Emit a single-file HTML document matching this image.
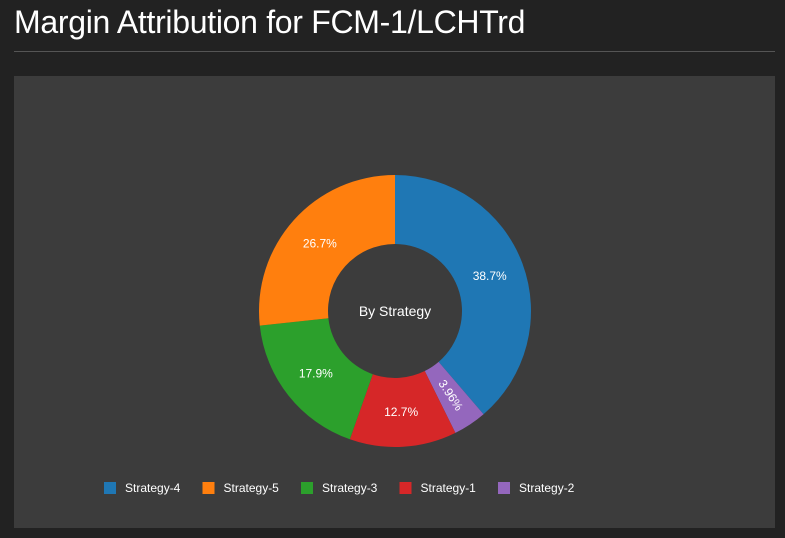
<!DOCTYPE html>
<html><head><meta charset="utf-8"><style>
html,body{margin:0;padding:0;background:#222;width:785px;height:538px;overflow:hidden;font-family:"Liberation Sans",sans-serif;}
#title{position:absolute;left:14px;top:4px;font-size:32px;color:#fff;font-weight:normal;letter-spacing:-0.3px;}
#rule{position:absolute;left:14px;top:51px;width:761px;height:1px;background:#555;}
#panel{position:absolute;left:14px;top:76px;width:761px;height:452px;background:#3c3c3c;}
</style></head><body>
<div id="title">Margin Attribution for FCM-1/LCHTrd</div>
<div id="rule"></div>
<div id="panel">
<svg id="chart" width="761" height="452"></svg>
</div>
<script>
const categories=["Strategy-4","Strategy-2","Strategy-1","Strategy-3","Strategy-5"];
const values=[38.7,3.96,12.7,17.9,26.7];
const labels=["38.7%","3.96%","12.7%","17.9%","26.7%"];
const legendOrder=["Strategy-4","Strategy-5","Strategy-3","Strategy-1","Strategy-2"];
const colors={"Strategy-4":"#1f77b4","Strategy-5":"#ff7f0e","Strategy-3":"#2ca02c","Strategy-1":"#d62728","Strategy-2":"#9467bd"};
const NS="http://www.w3.org/2000/svg";
const svg=document.getElementById('chart');
const cx=381,cy=235,R=136,r=67;
const total=values.reduce((a,b)=>a+b,0);
function pt(a,rad){return [cx+rad*Math.sin(a),cy-rad*Math.cos(a)];}
let acc=0;
values.forEach((v,i)=>{
  const a0=acc/total*2*Math.PI; acc+=v; const a1=acc/total*2*Math.PI;
  const large=(a1-a0)>Math.PI?1:0;
  const p0=pt(a0,R),p1=pt(a1,R),q1=pt(a1,r),q0=pt(a0,r);
  const p=document.createElementNS(NS,'path');
  p.setAttribute('d',`M${p0[0]},${p0[1]}A${R},${R} 0 ${large} 1 ${p1[0]},${p1[1]}L${q1[0]},${q1[1]}A${r},${r} 0 ${large} 0 ${q0[0]},${q0[1]}Z`);
  p.setAttribute('fill',colors[categories[i]]);
  
  
  svg.appendChild(p);
  const am=(a0+a1)/2; const m=pt(am,101);
  const t=document.createElementNS(NS,'text');
  t.setAttribute('x',m[0]);t.setAttribute('y',m[1]+4);
  t.setAttribute('fill','#fff');t.setAttribute('font-size','12');t.setAttribute('text-anchor','middle');
  t.setAttribute('font-family','Liberation Sans, sans-serif');
  if(v<5){let deg=am*180/Math.PI-90;t.setAttribute('transform',`rotate(${deg} ${m[0]} ${m[1]})`);}
  t.textContent=labels[i];
  
  
  svg.appendChild(t);
});
const c=document.createElementNS(NS,'text');
c.setAttribute('x',cx);c.setAttribute('y',cy+5);c.setAttribute('fill','#fff');c.setAttribute('font-size','14');
c.setAttribute('text-anchor','middle');c.setAttribute('font-family','Liberation Sans, sans-serif');
c.textContent='By Strategy';


svg.appendChild(c);
legendOrder.forEach((name,i)=>{
  const x=96+i*98.5,y=412;
  const g=document.createElementNS(NS,'g');
  
  
  const s=document.createElementNS(NS,'rect');
  s.setAttribute('x',x-6);s.setAttribute('y',y-6);s.setAttribute('width',12);s.setAttribute('height',12);
  s.setAttribute('fill',colors[name]);g.appendChild(s);
  const t=document.createElementNS(NS,'text');
  t.setAttribute('x',x+15);t.setAttribute('y',y+4);t.setAttribute('fill','#fff');t.setAttribute('font-size','12');
  t.setAttribute('font-family','Liberation Sans, sans-serif');t.textContent=name;g.appendChild(t);
  svg.appendChild(g);
});
</script>
</body></html>
